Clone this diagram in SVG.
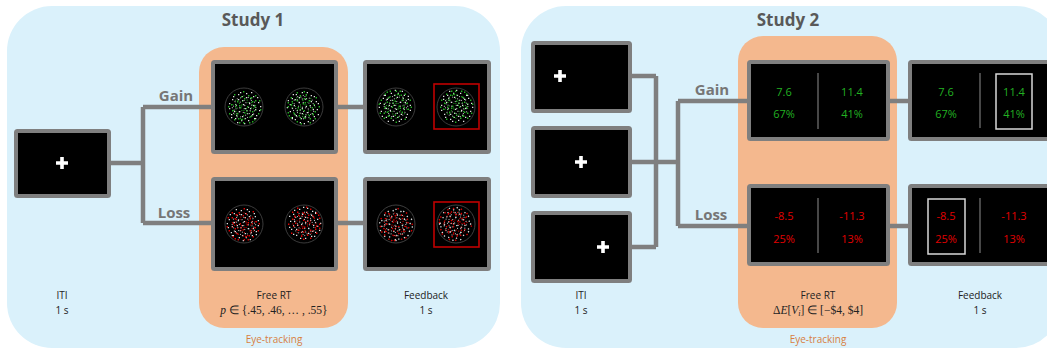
<svg xmlns="http://www.w3.org/2000/svg" xmlns:xlink="http://www.w3.org/1999/xlink" width="1047" height="350" viewBox="0 0 1047 350">
<style>
.panel{fill:#daf1fb}
.eye{fill:#f4b88e}
.scr{fill:#000;stroke:#7f7f7f;stroke-width:4}
.wire{fill:none;stroke:#7f7f7f;stroke-width:4.5}
.cross{fill:#fff}
.lbl{font-family:"Open Sans","Liberation Sans",sans-serif;font-size:10px;fill:#222;text-anchor:middle}
.math{font-family:"Liberation Serif",serif;font-size:11.5px;fill:#222;text-anchor:middle}
.title{font-family:"Open Sans","Liberation Sans",sans-serif;font-weight:bold;font-size:17px;fill:#595959;text-anchor:middle}
.branch{font-family:"Open Sans","Liberation Sans",sans-serif;font-weight:bold;font-size:15px;fill:#767676;text-anchor:middle}
.et{font-family:"Open Sans","Liberation Sans",sans-serif;font-size:10px;fill:#d8803f;text-anchor:middle}
.num{font-family:"Open Sans","Liberation Sans",sans-serif;font-size:11px;text-anchor:middle}
.g{fill:#22b022}
.r{fill:#e00000}
.ring{fill:none;stroke:#4a4a4a;stroke-width:0.8}
.div{stroke:#6e6e6e;stroke-width:1.3}
.pick-r{fill:none;stroke:#c00000;stroke-width:1.6}
.pick-w{fill:none;stroke:#d8d8d8;stroke-width:1.5}
</style>
<defs>
  <!-- one layer of dots: white ones fixed, coloured ones inherit fill from <use> -->
  <g id="dots">
    <path fill="#e0e0e0" d="M-12,-8h1.3v1.3h-1.3zM-6,-13h1.3v1.3h-1.3zM2,-14h1.3v1.3h-1.3zM9,-11h1.3v1.3h-1.3zM14,-5h1.3v1.3h-1.3zM-15,1h1.3v1.3h-1.3zM-9,-3h1.3v1.3h-1.3zM-2,-7h1.3v1.3h-1.3zM5,-4h1.3v1.3h-1.3zM11,2h1.3v1.3h-1.3zM-13,7h1.3v1.3h-1.3zM-5,4h1.3v1.3h-1.3zM1,1h1.3v1.3h-1.3zM8,7h1.3v1.3h-1.3zM15,3h1.3v1.3h-1.3zM-9,11h1.3v1.3h-1.3zM-2,9h1.3v1.3h-1.3zM4,13h1.3v1.3h-1.3zM10,11h1.3v1.3h-1.3zM-4,-15h1.3v1.3h-1.3zM6,-9h1.3v1.3h-1.3zM-11,-11h1.3v1.3h-1.3zM13,-10h1.3v1.3h-1.3zM-7,15h1.3v1.3h-1.3zM0,16h1.3v1.3h-1.3zM3,6h1.3v1.3h-1.3zM-15,-4h1.3v1.3h-1.3zM16,-1h1.3v1.3h-1.3zM-6,-8h1.3v1.3h-1.3zM7,-15h1.3v1.3h-1.3zM12,8h1.3v1.3h-1.3zM-10,4h1.3v1.3h-1.3zM-1,-3h1.3v1.3h-1.3zM6,1h1.3v1.3h-1.3zM-3,13h1.3v1.3h-1.3zM9,-2h1.3v1.3h-1.3zM-13,10h1.3v1.3h-1.3zM2,-10h1.3v1.3h-1.3zM-8,8h1.3v1.3h-1.3zM11,11h1.3v1.3h-1.3z"/>
    <path d="M-10,-13h1.4v1.4h-1.4zM-3,-11h1.4v1.4h-1.4zM4,-12h1.4v1.4h-1.4zM11,-7h1.4v1.4h-1.4zM-13,-3h1.4v1.4h-1.4zM-7,-6h1.4v1.4h-1.4zM0,-9h1.4v1.4h-1.4zM8,-6h1.4v1.4h-1.4zM15,-7h1.4v1.4h-1.4zM-12,3h1.4v1.4h-1.4zM-4,0h1.4v1.4h-1.4zM3,-1h1.4v1.4h-1.4zM10,-1h1.4v1.4h-1.4zM-15,6h1.4v1.4h-1.4zM-7,6h1.4v1.4h-1.4zM0,5h1.4v1.4h-1.4zM6,9h1.4v1.4h-1.4zM14,6h1.4v1.4h-1.4zM-10,12h1.4v1.4h-1.4zM-3,12h1.4v1.4h-1.4zM5,15h1.4v1.4h-1.4zM10,12h1.4v1.4h-1.4zM-5,-2h1.4v1.4h-1.4zM2,3h1.4v1.4h-1.4zM8,4h1.4v1.4h-1.4zM-9,-1h1.4v1.4h-1.4zM-1,15h1.4v1.4h-1.4zM-6,11h1.4v1.4h-1.4zM11,-12h1.4v1.4h-1.4zM-1,-16h1.4v1.4h-1.4zM16,2h1.4v1.4h-1.4zM-16,-1h1.4v1.4h-1.4zM7,-10h1.4v1.4h-1.4zM-5,15h1.4v1.4h-1.4zM8,14h1.4v1.4h-1.4z"/>
  </g>
  <!-- random dot kinematogram: ring plus two offset layers of dots -->
  <g id="rdk">
    <circle class="ring" r="19"/>
    <use xlink:href="#dots"/>
    <use xlink:href="#dots" transform="rotate(37) scale(0.72)"/>
  </g>
  <path id="plus" class="cross" d="M-6,-1.8h4.2v-4.2h3.6v4.2h4.2v3.6h-4.2v4.2h-3.6v-4.2h-4.2z"/>
</defs>

<!-- background panels -->
<g id="panels">
  <rect class="panel" x="7" y="6" width="493" height="342" rx="45"/>
  <rect class="panel" x="521" y="6" width="540" height="342" rx="45"/>
  <rect class="eye" x="199" y="47" width="149" height="281" rx="25"/>
  <rect class="eye" x="738" y="36" width="159" height="292" rx="25"/>
</g>

<!-- connectors -->
<g id="connectors" class="wire">
  <path d="M109,163H143M143,107V223M143,107H213M143,223H213"/>
  <path d="M336,107H365M336,223H365"/>
  <path d="M630,76H656M630,247H656M656,76V247M630,162H678M678,101V226M678,101H749M678,226H749"/>
  <path d="M888,101H910M888,226H910"/>
</g>

<!-- Study 1 -->
<g id="study1-title"><text class="title" x="253" y="26">Study 1</text></g>
<g id="s1-iti">
  <rect class="scr" x="16" y="131" width="93" height="65" rx="1.5"/>
  <use xlink:href="#plus" x="62" y="163"/>
</g>
<g id="s1-gain-label"><text class="branch" x="176" y="101">Gain</text></g>
<g id="s1-loss-label"><text class="branch" x="174" y="218">Loss</text></g>
<g id="s1-choice-gain">
  <rect class="scr" x="213" y="62" width="123" height="90" rx="1.5"/>
  <use xlink:href="#rdk" class="g" transform="translate(244,107)"/>
  <use xlink:href="#rdk" class="g" transform="translate(304,107) rotate(90)"/>
</g>
<g id="s1-choice-loss">
  <rect class="scr" x="213" y="179" width="123" height="90" rx="1.5"/>
  <use xlink:href="#rdk" class="r" transform="translate(244,224) scale(-1,1)"/>
  <use xlink:href="#rdk" class="r" transform="translate(304,224) rotate(-90)"/>
</g>
<g id="s1-feedback-gain">
  <rect class="scr" x="365" y="62" width="124" height="90" rx="1.5"/>
  <use xlink:href="#rdk" class="g" transform="translate(396,107) rotate(180)"/>
  <use xlink:href="#rdk" class="g" transform="translate(456,107) scale(1,-1)"/>
  <rect class="pick-r" x="434" y="84" width="45" height="45"/>
</g>
<g id="s1-feedback-loss">
  <rect class="scr" x="365" y="179" width="124" height="90" rx="1.5"/>
  <use xlink:href="#rdk" class="r" transform="translate(396,224) rotate(45)"/>
  <use xlink:href="#rdk" class="r" transform="translate(456,224) rotate(135)"/>
  <rect class="pick-r" x="434" y="202" width="45" height="45"/>
</g>
<g id="s1-labels">
  <text class="lbl" x="62" y="299">ITI</text>
  <text class="lbl" x="62" y="314">1 s</text>
  <text class="lbl" x="274" y="299">Free RT</text>
  <text class="math" x="274" y="314"><tspan font-style="italic">p</tspan> ∈ {.45, .46, … , .55}</text>
  <text class="lbl" x="426" y="299">Feedback</text>
  <text class="lbl" x="426" y="314">1 s</text>
  <text class="et" x="274" y="343">Eye-tracking</text>
</g>

<!-- Study 2 -->
<g id="study2-title"><text class="title" x="788" y="26">Study 2</text></g>
<g id="s2-iti-1">
  <rect class="scr" x="533" y="43" width="97" height="68" rx="1.5"/>
  <use xlink:href="#plus" x="560" y="76"/>
</g>
<g id="s2-iti-2">
  <rect class="scr" x="533" y="128" width="97" height="68" rx="1.5"/>
  <use xlink:href="#plus" x="581" y="162"/>
</g>
<g id="s2-iti-3">
  <rect class="scr" x="533" y="213" width="97" height="68" rx="1.5"/>
  <use xlink:href="#plus" x="603" y="247"/>
</g>
<g id="s2-gain-label"><text class="branch" x="712" y="95">Gain</text></g>
<g id="s2-loss-label"><text class="branch" x="711" y="220">Loss</text></g>
<g id="s2-choice-gain">
  <rect class="scr" x="749" y="62" width="139" height="77" rx="1.5"/>
  <line class="div" x1="818" y1="73" x2="818" y2="129"/>
  <text class="num g" x="784" y="96">7.6</text>
  <text class="num g" x="784" y="118">67%</text>
  <text class="num g" x="852" y="96">11.4</text>
  <text class="num g" x="852" y="118">41%</text>
</g>
<g id="s2-choice-loss">
  <rect class="scr" x="749" y="186" width="139" height="78" rx="1.5"/>
  <line class="div" x1="818" y1="198" x2="818" y2="253"/>
  <text class="num r" x="784" y="220">-8.5</text>
  <text class="num r" x="784" y="243">25%</text>
  <text class="num r" x="852" y="220">-11.3</text>
  <text class="num r" x="852" y="243">13%</text>
</g>
<g id="s2-feedback-gain">
  <rect class="scr" x="910" y="62" width="139" height="77" rx="1.5"/>
  <line class="div" x1="980" y1="73" x2="980" y2="128"/>
  <text class="num g" x="946" y="96">7.6</text>
  <text class="num g" x="946" y="118">67%</text>
  <text class="num g" x="1014" y="96">11.4</text>
  <text class="num g" x="1014" y="118">41%</text>
  <rect class="pick-w" x="996" y="74" width="36" height="55"/>
</g>
<g id="s2-feedback-loss">
  <rect class="scr" x="910" y="186" width="139" height="78" rx="1.5"/>
  <line class="div" x1="980" y1="198" x2="980" y2="253"/>
  <text class="num r" x="946" y="220">-8.5</text>
  <text class="num r" x="946" y="243">25%</text>
  <text class="num r" x="1014" y="220">-11.3</text>
  <text class="num r" x="1014" y="243">13%</text>
  <rect class="pick-w" x="928" y="199" width="37" height="55"/>
</g>
<g id="s2-labels">
  <text class="lbl" x="581" y="299">ITI</text>
  <text class="lbl" x="581" y="314">1 s</text>
  <text class="lbl" x="818" y="299">Free RT</text>
  <text class="math" x="818" y="314">Δ<tspan font-style="italic">E</tspan>[<tspan font-style="italic">V</tspan><tspan font-style="italic" font-size="8" dy="2">i</tspan><tspan dy="-2">] ∈ [−$4, $4]</tspan></text>
  <text class="lbl" x="980" y="299">Feedback</text>
  <text class="lbl" x="980" y="314">1 s</text>
  <text class="et" x="818" y="343">Eye-tracking</text>
</g>
</svg>
